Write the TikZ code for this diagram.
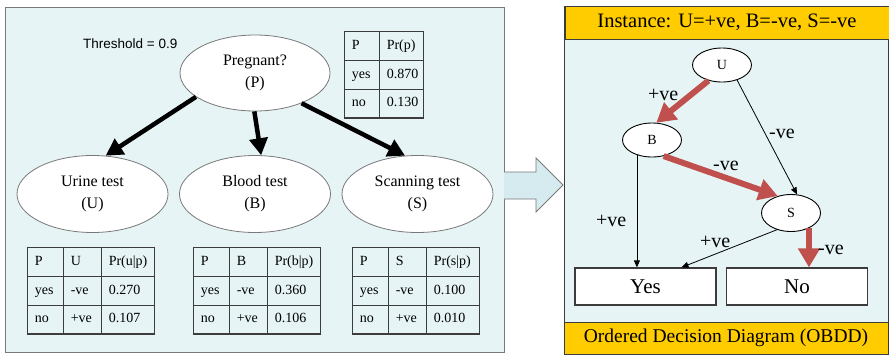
\documentclass[tikz,border=0pt]{standalone}
\usepackage{fontspec}
\setmainfont{Liberation Serif}
\newfontfamily\sansfam{Liberation Sans}
\usetikzlibrary{arrows.meta,shapes.geometric,matrix}

\definecolor{panelbg}{RGB}{230,244,246}
\definecolor{arrowbg}{RGB}{214,235,239}
\definecolor{bandyellow}{RGB}{255,204,0}
\definecolor{pathred}{RGB}{192,80,77}
\definecolor{rulegray}{RGB}{60,60,60}
\definecolor{edgegray}{RGB}{120,120,120}

\begin{document}
\begin{tikzpicture}[x=1pt,y=-1pt,
  bnnode/.style={ellipse, draw=edgegray, line width=0.8pt, fill=white,
    minimum width=151pt, minimum height=77pt, inner sep=0pt, align=center,
    font=\fontsize{16}{22}\selectfont},
  ddnode/.style={ellipse, draw=black, line width=0.9pt, fill=white,
    minimum width=59pt, minimum height=35pt, inner sep=0pt,
    font=\fontsize{14}{16}\selectfont},
  leafbox/.style={rectangle, draw=rulegray, line width=1.2pt, fill=white,
    minimum width=141pt, minimum height=37pt, inner sep=0pt,
    font=\fontsize{21}{24}\selectfont},
  band/.style={rectangle, draw=rulegray, line width=1pt, fill=bandyellow,
    minimum width=324pt, inner sep=0pt, font=\fontsize{19.5}{22}\selectfont},
  depedge/.style={line width=4.5pt, -{Triangle[length=17pt,width=18pt]}},
  rededge/.style={draw=pathred, line width=6pt,
    -{Triangle[length=19pt,width=21pt,fill=pathred]}},
  thinedge/.style={line width=0.8pt, -{Triangle[length=7pt,width=6pt]}},
  elabel/.style={anchor=base west, inner sep=0pt, font=\fontsize{20}{24}\selectfont},
  cpt/.style={matrix of nodes, inner sep=0pt, column sep=-1.2pt, row sep=-1.2pt,
    anchor=north west,
    nodes={draw=rulegray, line width=1.2pt, inner xsep=7pt, inner ysep=0pt,
      minimum height=28.7pt, align=left, font=\fontsize{14}{16}\selectfont,
      execute at begin node=\strut}},
  cptthree/.style={cpt,
    column 1/.style={nodes={text width=22pt}},
    column 2/.style={nodes={text width=24pt}},
    column 3/.style={nodes={text width=39pt}}}
]
\useasboundingbox (0,0) rectangle (889,354);

% ---------- Bayesian network panel ----------
\filldraw[fill=panelbg, draw=edgegray, line width=0.9pt] (5,7) rectangle (504,352);

\node[anchor=base west, inner sep=0pt, font=\sansfam\fontsize{13.5}{16}\selectfont]
  (thr) at (83,48) {Threshold = 0.9};

\node[bnnode, minimum width=150pt, minimum height=76pt] (P) at (255,73) {Pregnant?\\(P)};
\node[bnnode] (Ut) at (92.5,194) {Urine test\\(U)};
\node[bnnode] (Bt) at (255,194) {Blood test\\(B)};
\node[bnnode] (St) at (417.5,194) {Scanning test\\(S)};

\draw[depedge] (P.-158) -- (Ut.71);
\draw[depedge] (P.-91) -- (Bt.81);
\draw[depedge] (P.-33) -- (St.108);

% conditional probability tables
\matrix (cptP) [cpt,
  column 1/.style={nodes={text width=21pt}},
  column 2/.style={nodes={text width=30pt}}] at (344,31) {
  P & Pr(p) \\
  yes & 0.870 \\
  no & 0.130 \\
};
\matrix (cptU) [cptthree] at (27,247) {
  P & U & Pr(u|p) \\
  yes & -ve & 0.270 \\
  no & +ve & 0.107 \\
};
\matrix (cptB) [cptthree] at (193,247) {
  P & B & Pr(b|p) \\
  yes & -ve & 0.360 \\
  no & +ve & 0.106 \\
};
\matrix (cptS) [cptthree] at (352,247) {
  P & S & Pr(s|p) \\
  yes & -ve & 0.100 \\
  no & +ve & 0.010 \\
};

% ---------- block arrow between the panels ----------
\filldraw[fill=arrowbg, draw=edgegray, line width=0.8pt]
  (504,172) -- (536,172) -- (536,158) -- (563,185) -- (536,212) -- (536,199) -- (504,199);

% ---------- decision diagram panel ----------
\filldraw[fill=panelbg, draw=rulegray, line width=1pt] (564,6) rectangle (888,354);
\node[band, minimum height=33pt, font=\fontsize{20.5}{23}\selectfont] (hdr) at (727,22.5)
  {Instance: U=+ve, B=-ve, S=-ve};
\node[band, minimum height=32pt] (ftr) at (726,338) {Ordered Decision Diagram (OBDD)};

\node[ddnode, minimum height=34pt] (U) at (722,65) {U};
\node[ddnode, minimum height=34pt] (B) at (652,140) {B};
\node[ddnode, minimum height=37pt] (S) at (791,213) {S};
\node[leafbox] (Yes) at (645.5,286.5) {Yes};
\node[leafbox] (No) at (797,286.5) {No};
\coordinate (noIn) at ([xshift=12pt]No.north);

\draw[thinedge] (U.-45) -- (S.72);
\draw[thinedge] (B.-135) -- (B.-135 |- Yes.north);
\draw[thinedge] (S.-130) -- ([xshift=36pt]Yes.north);
\draw[rededge] (U.-131) -- (B.76);
\draw[rededge] (B.-54) -- (S.128);
\draw[rededge] (S.-40 -| noIn) -- (noIn);

\node[elabel] (lUB) at (648,100) {+ve};
\node[elabel] (lUS) at (769,138) {-ve};
\node[elabel] (lBS) at (713,170) {-ve};
\node[elabel] (lBY) at (596,226) {+ve};
\node[elabel] (lSY) at (700,247) {+ve};
\node[elabel] (lSN) at (818,254) {-ve};
\end{tikzpicture}
\end{document}
